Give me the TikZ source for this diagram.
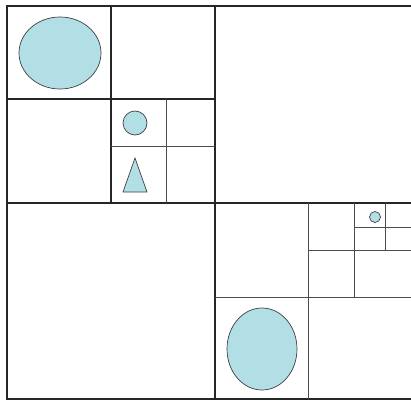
\documentclass[tikz,border=0pt]{standalone}
\usepackage{tikz}
\definecolor{shapeblue}{RGB}{178,222,230}

\begin{document}
\begin{tikzpicture}[x=1pt, y=-1pt,
    cell/.style={draw=black!85, line width=1.2pt},
    subcell/.style={draw=black!70, line width=1pt},
    blob/.style={draw=black!75, fill=shapeblue, line width=0.7pt}]
  \useasboundingbox (0,0) rectangle (411,401);
  \draw[cell] (7,6) rectangle (416,399);
  \draw[cell] (215,6) -- (215,399);
  \draw[cell] (7,203) -- (416,203);
  \draw[cell] (111,6) -- (111,203);
  \draw[cell] (7,99) -- (215,99);
  \draw[subcell] (166,99) -- (166,203);
  \draw[subcell] (111,146) -- (215,146);
  \draw[subcell] (308,203) -- (308,399);
  \draw[subcell] (215,297) -- (416,297);
  \draw[subcell] (354,203) -- (354,297);
  \draw[subcell] (308,250) -- (416,250);
  \draw[subcell] (385,203) -- (385,250);
  \draw[subcell] (354,227) -- (416,227);
  \draw[blob] (60,53) ellipse [x radius=41, y radius=36];
  \draw[blob] (135,123) circle [radius=12];
  \draw[blob] (135,158) -- (147,192) -- (123,192) -- cycle;
  \draw[blob] (375,217) circle [radius=5.5];
  \draw[blob] (262,349) ellipse [x radius=35, y radius=41];
\end{tikzpicture}
\end{document}
